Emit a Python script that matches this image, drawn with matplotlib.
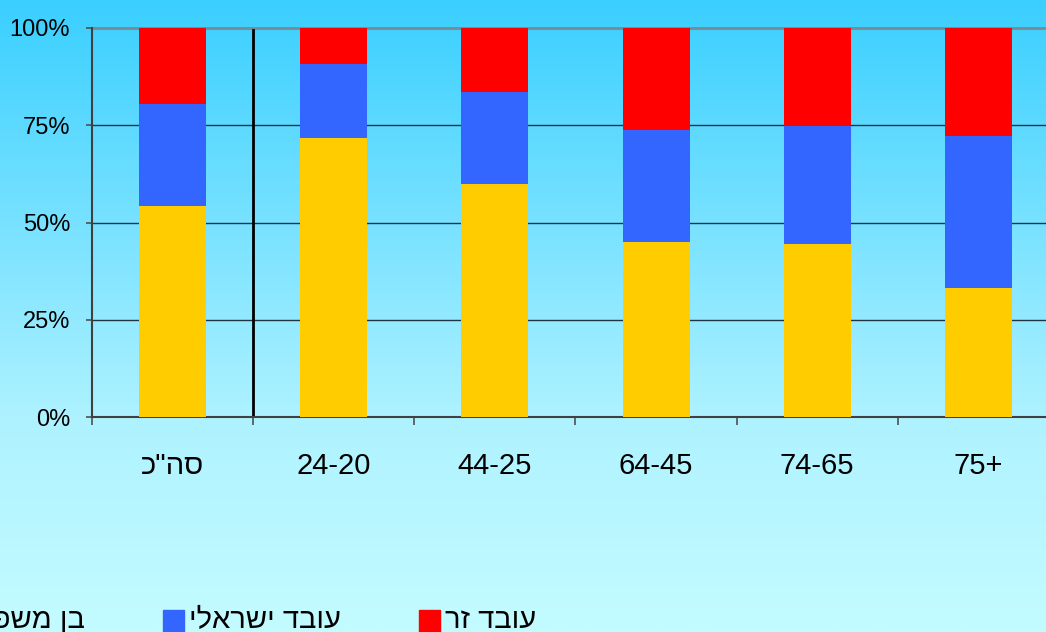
import matplotlib.pyplot as plt
import numpy as np
from matplotlib.patches import Rectangle
from matplotlib.colors import LinearSegmentedColormap

plt.rcParams['font.family'] = ['Liberation Sans', 'DejaVu Sans']

# age groups as printed under the bars (first one is the total)
groups = ['סה"כ', '24-20', '44-25', '64-45', '74-65', '75+']
family_pct = [54.2, 71.7, 59.9, 45.0, 44.5, 33.2]
israeli_pct = [26.3, 19.0, 23.6, 28.8, 30.3, 39.0]
foreign_pct = [19.5, 9.3, 16.5, 26.2, 25.2, 27.8]
series_names = ['בן משפחה', 'עובד ישראלי', 'עובד זר']
series_colors = ['#FFCC00', '#3366FF', '#FF0000']
y_ticks = [0, 25, 50, 75, 100]


def rtl(s):
    # matplotlib has no bidi support, so hebrew is laid out reversed
    if any('\u0590' <= c <= '\u05ff' for c in s):
        return s[::-1]
    return s


W, H = 1046, 632
fig = plt.figure(figsize=(W / 100, H / 100), dpi=100)

# background gradient over the whole figure
bg = fig.add_axes([0, 0, 1, 1], zorder=0)
cmap = LinearSegmentedColormap.from_list(
    'sky', [(0.0, '#3ACFFF'), (0.66, '#AEF2FF'), (1.0, '#C3FCFF')])
grad = np.linspace(0, 1, 400).reshape(-1, 1)
bg.imshow(grad, aspect='auto', cmap=cmap, extent=[0, 1, 0, 1], origin='upper')
bg.axis('off')

ax = fig.add_axes([92 / W, 215 / H, 967 / W, 389 / H], zorder=1)
ax.set_facecolor('none')

x = np.arange(len(groups))
series = [family_pct, israeli_pct, foreign_pct]
bottom = np.zeros(len(groups))
for vals, col in zip(series, series_colors):
    ax.bar(x, vals, width=0.415, bottom=bottom, color=col, zorder=3)
    bottom += np.array(vals)

ax.set_xlim(-0.5, len(groups) - 0.5)
ax.set_ylim(0, 100)

for v in y_ticks[1:-1]:
    ax.axhline(v, color='#1F3544', lw=1, zorder=1)
ax.axhline(100, color='#7A8C96', lw=2.2, zorder=1, clip_on=False)

# separator between total and age groups
ax.axvline(0.5, ymin=0.005, ymax=0.995, color='black', lw=2, zorder=2)

ax.set_yticks(y_ticks)
ax.set_yticklabels([f'{v}%' for v in y_ticks])
ax.tick_params(axis='y', length=4.3, width=1.2, color='#505050', pad=11.5,
               labelsize=17)

ax.set_xticks(x)
ax.set_xticklabels([rtl(g) for g in groups])
ax.set_xticks(np.arange(-0.5, len(groups), 1), minor=True)
ax.tick_params(axis='x', which='major', length=0, pad=25, labelsize=21)
ax.tick_params(axis='x', which='minor', length=6, width=1.2, color='#505050')

for side in ['top', 'right']:
    ax.spines[side].set_visible(False)
for side in ['left', 'bottom']:
    ax.spines[side].set_color('#404040')
    ax.spines[side].set_linewidth(1.5)

# legend along the bottom edge: first entry ends at x=85px, then a fixed
# gap before each following swatch
renderer = fig.canvas.get_renderer()
sq_w, sq_h, gap, pad = 21, 22, 78, 5
base_y = (H - 628) / H
txt_right = 85
for i, (name, col) in enumerate(zip(series_names, series_colors)):
    if i == 0:
        t = fig.text(txt_right / W, base_y, rtl(name), fontsize=21,
                     ha='right', va='baseline', zorder=3)
        tb = t.get_window_extent(renderer)
        sq_x = tb.x0 - pad - sq_w
    else:
        sq_x = txt_right + gap
        t = fig.text((sq_x + sq_w + pad) / W, base_y, rtl(name), fontsize=21,
                     ha='left', va='baseline', zorder=3)
        txt_right = t.get_window_extent(renderer).x1
    fig.patches.append(Rectangle((sq_x / W, 0), sq_w / W, sq_h / H,
                                 transform=fig.transFigure, color=col,
                                 zorder=2))

fig.savefig('out.png', dpi=100)
